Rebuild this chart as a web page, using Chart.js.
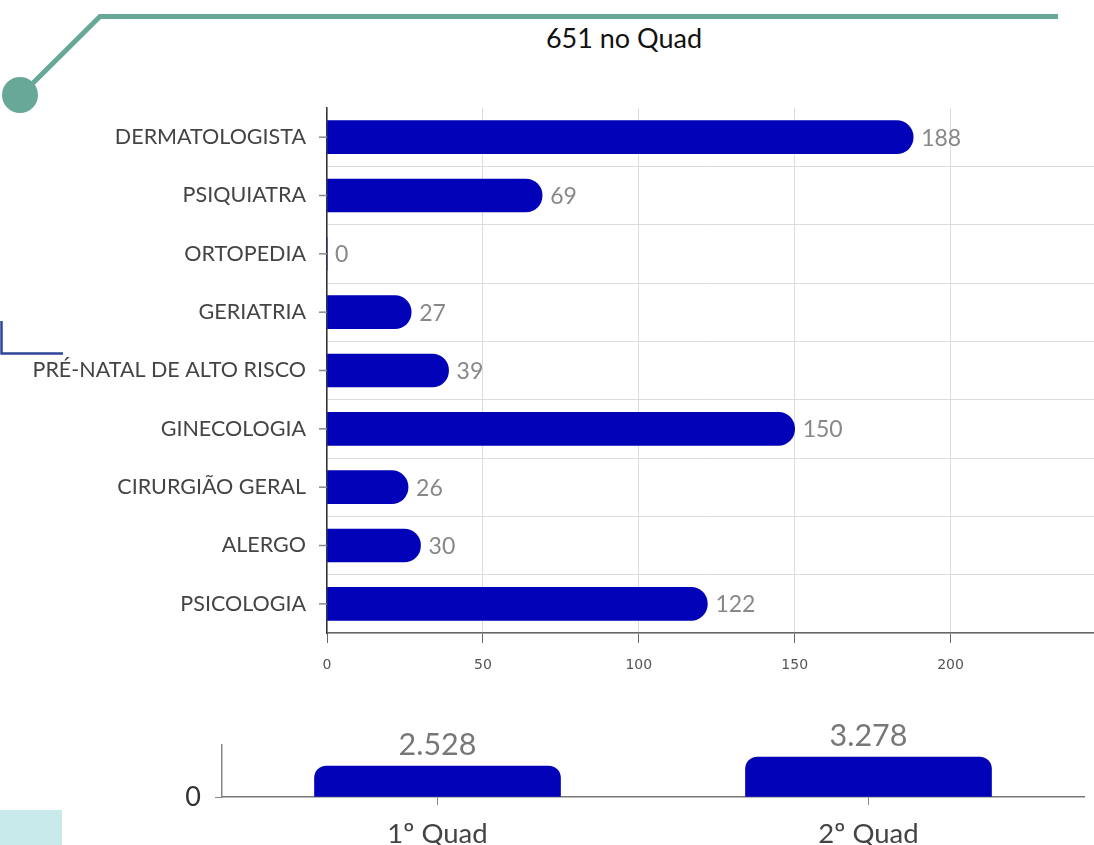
<!DOCTYPE html>
<html>
<head>
<meta charset="utf-8">
<script src="https://cdn.jsdelivr.net/npm/chart.js@4.4.1/dist/chart.umd.min.js"></script>
<style>
  html, body { margin: 0; padding: 0; width: 1094px; height: 845px; overflow: hidden; background: #fff; }
  #deco { position: absolute; left: 0; top: 0; }
  #title { position: absolute; left: 474px; width: 300px; top: 21px; text-align: center;
           font-family: Lato, sans-serif; font-size: 27px; color: #111; line-height: 34px; }
  #c1 { position: absolute; left: 0; top: 100px; }
  #c2 { position: absolute; left: 0; top: 700px; }
</style>
</head>
<body>
<svg id="deco" width="1094" height="845">
  <polyline points="1058,16.5 100,16.5 28,88" fill="none" stroke="#67a898" stroke-width="5"/>
  <circle cx="20" cy="95" r="18" fill="#67a898"/>
  <polyline points="1.5,321 1.5,353.5 63,353.5" fill="none" stroke="#2e459c" stroke-width="2.5"/>
  <rect x="0" y="810" width="62" height="35" fill="#c8eaea"/>
</svg>
<div id="title">651 no Quad</div>
<canvas id="c1" width="1094" height="580"></canvas>
<canvas id="c2" width="1094" height="160"></canvas>
<script>
// ---- data ----
const especialidades = ['DERMATOLOGISTA','PSIQUIATRA','ORTOPEDIA','GERIATRIA','PRÉ-NATAL DE ALTO RISCO','GINECOLOGIA','CIRURGIÃO GERAL','ALERGO','PSICOLOGIA'];
const atendimentos = [188, 69, 0, 27, 39, 150, 26, 30, 122];
const xTicks = [0, 50, 100, 150, 200];
const quadrimestres = ['1º Quad', '2º Quad'];
const totaisQuad = [2528, 3278];
const yTicksQuad = [0];

const BLUE = '#0202b8';
function fmtBR(v) { return String(v).replace(/\B(?=(\d{3})+(?!\d))/g, '.'); }

Chart.defaults.font.family = 'Lato, sans-serif';
Chart.defaults.animation = false;

const hValueLabels = {
  id: 'hValueLabels',
  afterDatasetsDraw(chart) {
    const ctx = chart.ctx;
    const meta = chart.getDatasetMeta(0);
    ctx.save();
    ctx.font = '23px Lato, sans-serif';
    ctx.fillStyle = '#888';
    ctx.textAlign = 'left';
    ctx.textBaseline = 'middle';
    meta.data.forEach((el, i) => {
      ctx.fillText(fmtBR(chart.data.datasets[0].data[i]), el.x + 8, el.y + 1);
    });
    ctx.restore();
  }
};
const yTickMarks = {
  id: 'yTickMarks',
  afterDraw(chart) {
    const s = chart.scales.y;
    const ctx = chart.ctx;
    ctx.save();
    ctx.strokeStyle = '#888';
    ctx.lineWidth = 1.5;
    s.ticks.forEach((t, i) => {
      const y = s.getPixelForTick(i);
      ctx.beginPath();
      ctx.moveTo(s.right - 8, y);
      ctx.lineTo(s.right, y);
      ctx.stroke();
    });
    ctx.restore();
  }
};

new Chart(document.getElementById('c1'), {
  type: 'bar',
  data: {
    labels: especialidades,
    datasets: [{ data: atendimentos, backgroundColor: BLUE, borderRadius: 17, barThickness: 33 }]
  },
  options: {
    indexAxis: 'y',
    responsive: false,
    layout: { padding: { top: 8, right: 0, left: 0, bottom: 0 } },
    plugins: { legend: { display: false }, tooltip: { enabled: false } },
    scales: {
      x: {
        min: 0, max: 246,
        afterBuildTicks: s => { s.ticks = xTicks.map(v => ({ value: v })); },
        afterFit: s => { s.height = 47; s.paddingLeft = 0; s.paddingRight = 0; },
        ticks: { font: { family: 'DejaVu Sans', size: 14 }, color: '#555', padding: 14, maxRotation: 0 },
        grid: { color: '#dcdcdc', tickColor: '#666', tickLength: 10, lineWidth: 1 },
        border: { color: '#666', width: 1.5 }
      },
      y: {
        afterFit: s => { s.width = 327; s.paddingTop = 0; s.paddingBottom = 0; },
        ticks: { font: { size: 21.5 }, color: '#444', padding: 21, autoSkip: false },
        grid: { offset: true, drawTicks: false, color: c => c.index === 0 ? 'rgba(0,0,0,0)' : '#dcdcdc' },
        border: { color: '#333', width: 1.5 }
      }
    }
  },
  plugins: [hValueLabels, yTickMarks]
});

const vValueLabels = {
  id: 'vValueLabels',
  afterDatasetsDraw(chart) {
    const ctx = chart.ctx;
    const meta = chart.getDatasetMeta(0);
    ctx.save();
    ctx.font = '30.5px Lato, sans-serif';
    ctx.fillStyle = '#777';
    ctx.textAlign = 'center';
    ctx.textBaseline = 'alphabetic';
    meta.data.forEach((el, i) => {
      ctx.fillText(fmtBR(chart.data.datasets[0].data[i]), el.x, el.y - 11);
    });
    ctx.restore();
  }
};

new Chart(document.getElementById('c2'), {
  type: 'bar',
  data: {
    labels: quadrimestres,
    datasets: [{ data: totaisQuad, backgroundColor: BLUE, borderRadius: 12, barThickness: 246 }]
  },
  options: {
    responsive: false,
    layout: { padding: { top: 45, right: 10, left: 0, bottom: 0 } },
    plugins: { legend: { display: false }, tooltip: { enabled: false } },
    scales: {
      x: {
        afterFit: s => { s.height = 63; s.paddingLeft = 0; s.paddingRight = 0; },
        ticks: { font: { size: 27.5 }, color: '#444', padding: 13, maxRotation: 0 },
        grid: { offset: false, drawOnChartArea: false, tickLength: 8, tickColor: '#888' },
        border: { color: '#777', width: 1.5 }
      },
      y: {
        min: 0, max: 4260,
        afterBuildTicks: s => { s.ticks = yTicksQuad.map(v => ({ value: v })); },
        afterFit: s => { s.width = 222; s.paddingTop = 0; s.paddingBottom = 0; },
        ticks: { font: { size: 27 }, color: '#333', padding: 14 },
        grid: { drawOnChartArea: false, tickLength: 7, tickColor: '#888' },
        border: { color: '#888', width: 1.5 }
      }
    }
  },
  plugins: [vValueLabels]
});
</script>
</body>
</html>
